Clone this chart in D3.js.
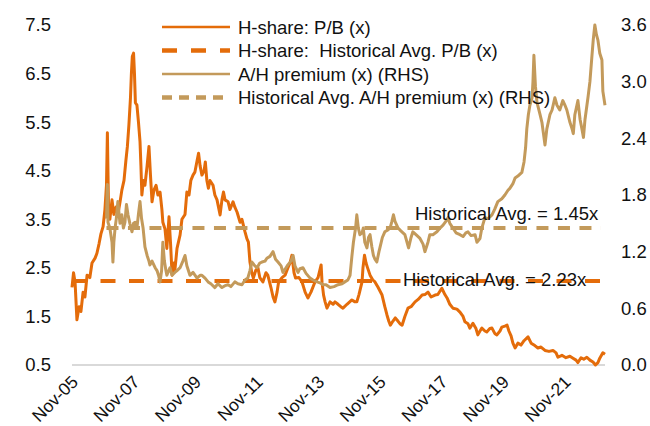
<!DOCTYPE html>
<html>
<head>
<meta charset="utf-8">
<script src="https://cdn.jsdelivr.net/npm/d3@7"></script>
<style>
  body { margin: 0; background: #fff; }
  svg text { font-family: "Liberation Sans", Arial, sans-serif; fill: #111; white-space: pre; }
</style>
</head>
<body>
<div id="chart"></div>
<script>
"use strict";

// dates are decimal years
var pbDates = [2005.83, 2005.88, 2005.93, 2005.99, 2006.06, 2006.12, 2006.19, 2006.25, 2006.32, 2006.41,
  2006.48, 2006.58, 2006.64, 2006.71, 2006.77, 2006.84, 2006.90, 2006.95, 2006.98, 2007.02,
  2007.06, 2007.13, 2007.19, 2007.26, 2007.32, 2007.39, 2007.45, 2007.52, 2007.58, 2007.63,
  2007.68, 2007.73, 2007.76, 2007.79, 2007.83, 2007.86, 2007.89, 2007.94, 2007.99, 2008.04,
  2008.07, 2008.10, 2008.15, 2008.20, 2008.27, 2008.33, 2008.38, 2008.43, 2008.49, 2008.56,
  2008.62, 2008.69, 2008.75, 2008.78, 2008.85, 2008.91, 2008.98, 2009.03, 2009.08, 2009.14,
  2009.17, 2009.24, 2009.34, 2009.40, 2009.50, 2009.56, 2009.63, 2009.69, 2009.76, 2009.82,
  2009.89, 2009.94, 2009.99, 2010.05, 2010.12, 2010.16, 2010.21, 2010.26, 2010.31, 2010.41,
  2010.47, 2010.54, 2010.64, 2010.70, 2010.75, 2010.80, 2010.90, 2010.96, 2011.06, 2011.12,
  2011.19, 2011.29, 2011.35, 2011.45, 2011.51, 2011.56, 2011.61, 2011.67, 2011.72, 2011.80,
  2011.87, 2011.93, 2012.03, 2012.13, 2012.19, 2012.29, 2012.36, 2012.42, 2012.49, 2012.54,
  2012.65, 2012.75, 2012.84, 2012.91, 2012.97, 2013.04, 2013.09, 2013.20, 2013.30, 2013.40,
  2013.49, 2013.59, 2013.72, 2013.82, 2013.92, 2013.95, 2014.00, 2014.05, 2014.11, 2014.21,
  2014.31, 2014.37, 2014.47, 2014.56, 2014.63, 2014.76, 2014.92, 2015.02, 2015.08, 2015.15,
  2015.25, 2015.28, 2015.33, 2015.38, 2015.43, 2015.51, 2015.60, 2015.67, 2015.77, 2015.90,
  2015.99, 2016.06, 2016.12, 2016.17, 2016.25, 2016.33, 2016.42, 2016.48, 2016.55, 2016.64,
  2016.74, 2016.84, 2016.97, 2017.07, 2017.20, 2017.29, 2017.39, 2017.49, 2017.62, 2017.71,
  2017.84, 2017.94, 2018.01, 2018.10, 2018.20, 2018.33, 2018.43, 2018.53, 2018.59, 2018.69,
  2018.75, 2018.85, 2018.95, 2019.01, 2019.08, 2019.14, 2019.24, 2019.30, 2019.40, 2019.47,
  2019.56, 2019.63, 2019.73, 2019.79, 2019.89, 2019.96, 2020.02, 2020.09, 2020.15, 2020.22,
  2020.31, 2020.41, 2020.51, 2020.64, 2020.74, 2020.86, 2020.96, 2021.06, 2021.19, 2021.32,
  2021.45, 2021.55, 2021.61, 2021.74, 2021.87, 2022.00, 2022.10, 2022.20, 2022.26, 2022.36,
  2022.45, 2022.55, 2022.65, 2022.75, 2022.83, 2022.91, 2022.97, 2023.07, 2023.14];

var pbValues = [2.1, 2.4, 2.2, 1.43, 1.7, 1.6, 2.0, 1.9, 2.35, 2.3,
  2.6, 2.7, 2.8, 3.0, 3.2, 3.35, 3.7, 4.2, 5.28, 3.6,
  3.5, 3.9, 3.6, 3.75, 3.6, 3.85, 4.1, 4.3, 4.7, 5.0,
  5.45, 6.0, 6.5, 6.85, 6.92, 6.5, 5.9, 5.85, 5.5, 5.1,
  4.6, 4.0, 4.3, 4.2, 4.6, 5.0, 4.4, 3.86, 4.1, 4.2,
  4.0, 4.06, 3.7, 3.44, 3.3, 2.9, 3.55, 3.0, 2.35, 2.6,
  2.45, 2.9, 3.18, 3.5, 3.6, 4.06, 4.0, 4.3, 4.41, 4.47,
  4.7, 4.86, 4.6, 4.41, 4.5, 4.68, 4.3, 4.14, 4.3, 4.2,
  4.0, 3.9, 3.59, 3.9, 4.06, 3.9, 3.86, 3.7, 3.86, 3.75,
  3.65, 3.44, 3.5, 3.24, 3.1, 3.03, 2.62, 2.4, 2.29, 2.45,
  2.5, 2.3, 2.21, 2.4, 2.35, 2.1, 1.9, 1.8, 2.0, 2.21,
  2.3, 2.35, 2.5, 2.6, 2.76, 2.4, 2.29, 2.3, 2.21, 2.0,
  1.88, 2.0, 2.21, 2.3, 2.56, 2.2, 1.94, 1.8, 1.67, 1.8,
  1.75, 1.8, 1.75, 1.7, 1.67, 1.75, 1.84, 1.8, 1.8, 1.95,
  2.21, 2.5, 2.76, 2.6, 2.5, 2.35, 2.25, 2.21, 2.1, 1.94,
  1.7, 1.53, 1.4, 1.32, 1.4, 1.47, 1.4, 1.35, 1.32, 1.5,
  1.67, 1.7, 1.8, 1.85, 1.94, 1.95, 2.0, 1.9, 1.94, 1.95,
  2.08, 1.95, 1.88, 1.75, 1.67, 1.65, 1.59, 1.5, 1.39, 1.35,
  1.26, 1.36, 1.25, 1.12, 1.2, 1.26, 1.2, 1.18, 1.25, 1.26,
  1.15, 1.12, 1.2, 1.28, 1.3, 1.32, 1.2, 1.1, 0.95, 0.85,
  0.95, 0.91, 1.0, 1.08, 0.95, 0.9, 0.85, 0.87, 0.8, 0.78,
  0.8, 0.75, 0.66, 0.7, 0.65, 0.68, 0.64, 0.6, 0.55, 0.65,
  0.62, 0.66, 0.6, 0.56, 0.5, 0.55, 0.64, 0.75, 0.72];

var ahDates = [2006.95, 2006.98, 2007.00, 2007.06, 2007.13, 2007.16, 2007.19, 2007.23, 2007.27, 2007.32,
  2007.39, 2007.45, 2007.50, 2007.55, 2007.60, 2007.65, 2007.71, 2007.78, 2007.83, 2007.88,
  2007.94, 2007.99, 2008.04, 2008.09, 2008.14, 2008.20, 2008.27, 2008.33, 2008.36, 2008.43,
  2008.53, 2008.59, 2008.64, 2008.69, 2008.74, 2008.78, 2008.83, 2008.88, 2008.91, 2009.01,
  2009.08, 2009.17, 2009.24, 2009.34, 2009.43, 2009.50, 2009.56, 2009.66, 2009.76, 2009.89,
  2009.99, 2010.05, 2010.15, 2010.25, 2010.34, 2010.47, 2010.57, 2010.70, 2010.80, 2010.90,
  2010.99, 2011.12, 2011.22, 2011.35, 2011.45, 2011.54, 2011.61, 2011.67, 2011.77, 2011.84,
  2011.93, 2012.00, 2012.10, 2012.16, 2012.26, 2012.36, 2012.44, 2012.52, 2012.62, 2012.68,
  2012.78, 2012.84, 2012.94, 2013.01, 2013.07, 2013.17, 2013.23, 2013.33, 2013.43, 2013.56,
  2013.66, 2013.79, 2013.88, 2013.98, 2014.08, 2014.21, 2014.34, 2014.47, 2014.60, 2014.69,
  2014.79, 2014.86, 2014.92, 2014.97, 2015.04, 2015.08, 2015.13, 2015.18, 2015.25, 2015.29,
  2015.34, 2015.41, 2015.46, 2015.51, 2015.57, 2015.62, 2015.67, 2015.73, 2015.80, 2015.83,
  2015.91, 2015.99, 2016.09, 2016.16, 2016.22, 2016.27, 2016.32, 2016.42, 2016.51, 2016.64,
  2016.71, 2016.76, 2016.84, 2016.90, 2017.00, 2017.13, 2017.23, 2017.29, 2017.39, 2017.45,
  2017.55, 2017.68, 2017.78, 2017.88, 2017.97, 2018.04, 2018.10, 2018.20, 2018.30, 2018.43,
  2018.53, 2018.62, 2018.69, 2018.79, 2018.92, 2018.98, 2019.08, 2019.14, 2019.24, 2019.34,
  2019.47, 2019.56, 2019.66, 2019.79, 2019.89, 2019.99, 2020.05, 2020.15, 2020.22, 2020.31,
  2020.44, 2020.51, 2020.56, 2020.60, 2020.65, 2020.70, 2020.77, 2020.80, 2020.83, 2020.88,
  2020.93, 2021.03, 2021.09, 2021.14, 2021.19, 2021.25, 2021.35, 2021.42, 2021.51, 2021.58,
  2021.67, 2021.77, 2021.84, 2021.90, 2022.00, 2022.07, 2022.11, 2022.16, 2022.26, 2022.33,
  2022.39, 2022.44, 2022.49, 2022.59, 2022.65, 2022.71, 2022.76, 2022.81, 2022.86, 2022.91,
  2022.97, 2023.04, 2023.07, 2023.14];

var ahValues = [1.55, 1.91, 1.51, 1.45, 1.3, 1.09, 1.3, 1.45, 1.55, 1.73,
  1.5, 1.59, 1.45, 1.51, 1.7, 1.59, 1.5, 1.41, 1.5, 1.51,
  1.45, 1.6, 1.73, 1.55, 1.45, 1.25, 1.16, 1.1, 1.06, 1.1,
  1.03, 1.0, 0.95, 0.88, 1.0, 1.3, 1.1, 1.0, 0.95, 1.03,
  0.95, 0.98, 1.0, 1.03, 1.1, 1.16, 1.05, 0.95, 0.98, 0.92,
  0.95, 0.95, 0.92, 0.88, 0.86, 0.82, 0.86, 0.82, 0.84, 0.85,
  0.83, 0.88, 0.86, 0.85, 0.9, 0.92, 1.0, 1.09, 1.05, 1.03,
  1.08, 1.09, 1.1, 1.13, 1.15, 1.2, 1.12, 1.09, 1.05, 0.98,
  1.03, 1.06, 1.1, 1.16, 1.05, 0.98, 1.02, 1.03, 0.97, 0.92,
  0.9, 0.88, 0.87, 0.85, 0.85, 0.82, 0.83, 0.85, 0.86, 0.88,
  0.9, 0.95, 1.15, 1.3, 1.45, 1.59, 1.45, 1.38, 1.4, 1.45,
  1.3, 1.24, 1.35, 1.38, 1.25, 1.16, 1.12, 1.09, 1.2, 1.24,
  1.35, 1.41, 1.43, 1.45, 1.52, 1.59, 1.52, 1.45, 1.42, 1.38,
  1.3, 1.24, 1.35, 1.41, 1.38, 1.34, 1.28, 1.2, 1.3, 1.38,
  1.38, 1.41, 1.45, 1.48, 1.52, 1.56, 1.5, 1.45, 1.4, 1.38,
  1.36, 1.4, 1.41, 1.37, 1.38, 1.3, 1.34, 1.45, 1.56, 1.55,
  1.59, 1.65, 1.73, 1.76, 1.8, 1.85, 1.87, 1.92, 1.98, 2.0,
  2.04, 2.15, 2.3, 2.5, 2.65, 2.75, 2.83, 3.0, 3.28, 2.95,
  2.78, 2.65, 2.57, 2.45, 2.33, 2.5, 2.65, 2.7, 2.83, 2.75,
  2.7, 2.8, 2.75, 2.7, 2.57, 2.5, 2.45, 2.65, 2.8, 2.6,
  2.5, 2.41, 2.6, 2.84, 3.0, 3.25, 3.45, 3.6, 3.5, 3.44,
  3.3, 3.23, 2.9, 2.75];

var pbAvg = 2.23;
var ahAvg = 1.45;

var leftTicks = [0.5, 1.5, 2.5, 3.5, 4.5, 5.5, 6.5, 7.5];
var rightTicks = [0.0, 0.6, 1.2, 1.8, 2.4, 3.0, 3.6];
var xTickYears = [2005, 2007, 2009, 2011, 2013, 2015, 2017, 2019, 2021];

var legendLabels = ["H-share: P/B (x)", "H-share:  Historical Avg. P/B (x)",
  "A/H premium (x) (RHS)", "Historical Avg. A/H premium (x) (RHS)"];

var ORANGE = "#E46C0A";
var TAN = "#C39A5B";
var FS = 18.5;

function toDate(y) {
  var yr = Math.floor(y);
  var a = new Date(yr, 0, 1), b = new Date(yr + 1, 0, 1);
  return new Date(+a + (y - yr) * (b - a));
}

var width = 650, height = 426;

var svg = d3.select("#chart").append("svg")
  .attr("width", width).attr("height", height);

var x = d3.scaleTime()
  .domain([toDate(2005.83), toDate(2023.14)])
  .range([72, 605]);
var yL = d3.scaleLinear().domain([0.5, 7.5]).range([365, 25]);
var yR = d3.scaleLinear().domain([0, 3.6]).range([365, 25]);

// left axis labels
var leftAxis = d3.axisLeft(yL).tickValues(leftTicks).tickSize(0).tickPadding(0)
  .tickFormat(d3.format(".1f"));
svg.append("g").attr("transform", "translate(51,0)").call(leftAxis)
  .call(function (g) { g.select(".domain").remove(); });

// right axis labels
var rightAxis = d3.axisRight(yR).tickValues(rightTicks).tickSize(0).tickPadding(0)
  .tickFormat(d3.format(".1f"));
svg.append("g").attr("transform", "translate(621,0)").call(rightAxis)
  .call(function (g) { g.select(".domain").remove(); });

svg.selectAll(".tick text").attr("font-size", FS).attr("fill", "#111")
  .attr("font-family", "Liberation Sans, Arial, sans-serif");

// bottom axis line
svg.append("line")
  .attr("x1", x.range()[0]).attr("x2", x.range()[1])
  .attr("y1", yL(0.5)).attr("y2", yL(0.5))
  .attr("stroke", "#d9d9d9").attr("stroke-width", 2);

// x labels, rotated (kept a bit smaller so they stay inside the frame)
var xTicks = xTickYears.map(function (y) { return new Date(y, 10, 1); });
var fmt = d3.timeFormat("%b-%y");
svg.append("g").selectAll("text")
  .data(xTicks)
  .enter().append("text")
  .attr("transform", function (d) { return "translate(" + (x(d) + 7) + ",383) rotate(-45)"; })
  .attr("text-anchor", "end")
  .attr("font-size", 17.5)
  .text(function (d) { return fmt(d); });

// series
var pbData = pbDates.map(function (d, i) { return { date: toDate(d), v: pbValues[i] }; });
var ahData = ahDates.map(function (d, i) { return { date: toDate(d), v: ahValues[i] }; });

var lineL = d3.line().x(function (d) { return x(d.date); }).y(function (d) { return yL(d.v); });
var lineR = d3.line().x(function (d) { return x(d.date); }).y(function (d) { return yR(d.v); });

svg.append("path").datum(pbData)
  .attr("d", lineL).attr("fill", "none")
  .attr("stroke", ORANGE).attr("stroke-width", 3).attr("stroke-linejoin", "round");

svg.append("line")
  .attr("x1", x(pbData[0].date)).attr("x2", x(pbData[pbData.length - 1].date))
  .attr("y1", yL(pbAvg)).attr("y2", yL(pbAvg))
  .attr("stroke", ORANGE).attr("stroke-width", 4)
  .attr("stroke-dasharray", "15,13.5");

svg.append("path").datum(ahData)
  .attr("d", lineR).attr("fill", "none")
  .attr("stroke", TAN).attr("stroke-width", 3).attr("stroke-linejoin", "round");

svg.append("line")
  .attr("x1", x(ahData[0].date)).attr("x2", x(ahData[ahData.length - 1].date) - 4)
  .attr("y1", yR(ahAvg)).attr("y2", yR(ahAvg))
  .attr("stroke", TAN).attr("stroke-width", 4)
  .attr("stroke-dasharray", "12,9.5");

// annotations
svg.append("text").attr("x", 415).attr("y", yR(ahAvg) - 8)
  .attr("font-size", FS).text("Historical Avg. = " + ahAvg.toFixed(2) + "x");
svg.append("text").attr("x", 403).attr("y", yL(pbAvg) + 5)
  .attr("font-size", FS).text("Historical Avg. = " + pbAvg.toFixed(2) + "x");

// legend
var legend = svg.append("g").attr("transform", "translate(162,0)");
var rows = [
  { label: legendLabels[0], color: ORANGE, dash: null, w: 2.5 },
  { label: legendLabels[1], color: ORANGE, dash: "15,14", w: 4.5 },
  { label: legendLabels[2], color: TAN, dash: null, w: 2.5 },
  { label: legendLabels[3], color: TAN, dash: "10,7", w: 4.5 }
];
var rowY = [27, 50.5, 74, 97.5];
rows.forEach(function (r, i) {
  var l = legend.append("line")
    .attr("x1", 0).attr("x2", 68).attr("y1", rowY[i]).attr("y2", rowY[i])
    .attr("stroke", r.color).attr("stroke-width", r.w);
  if (r.dash) l.attr("stroke-dasharray", r.dash);
  legend.append("text").attr("x", 76).attr("y", rowY[i] + 6.5)
    .attr("font-size", FS).text(r.label);
});
</script>
</body>
</html>
